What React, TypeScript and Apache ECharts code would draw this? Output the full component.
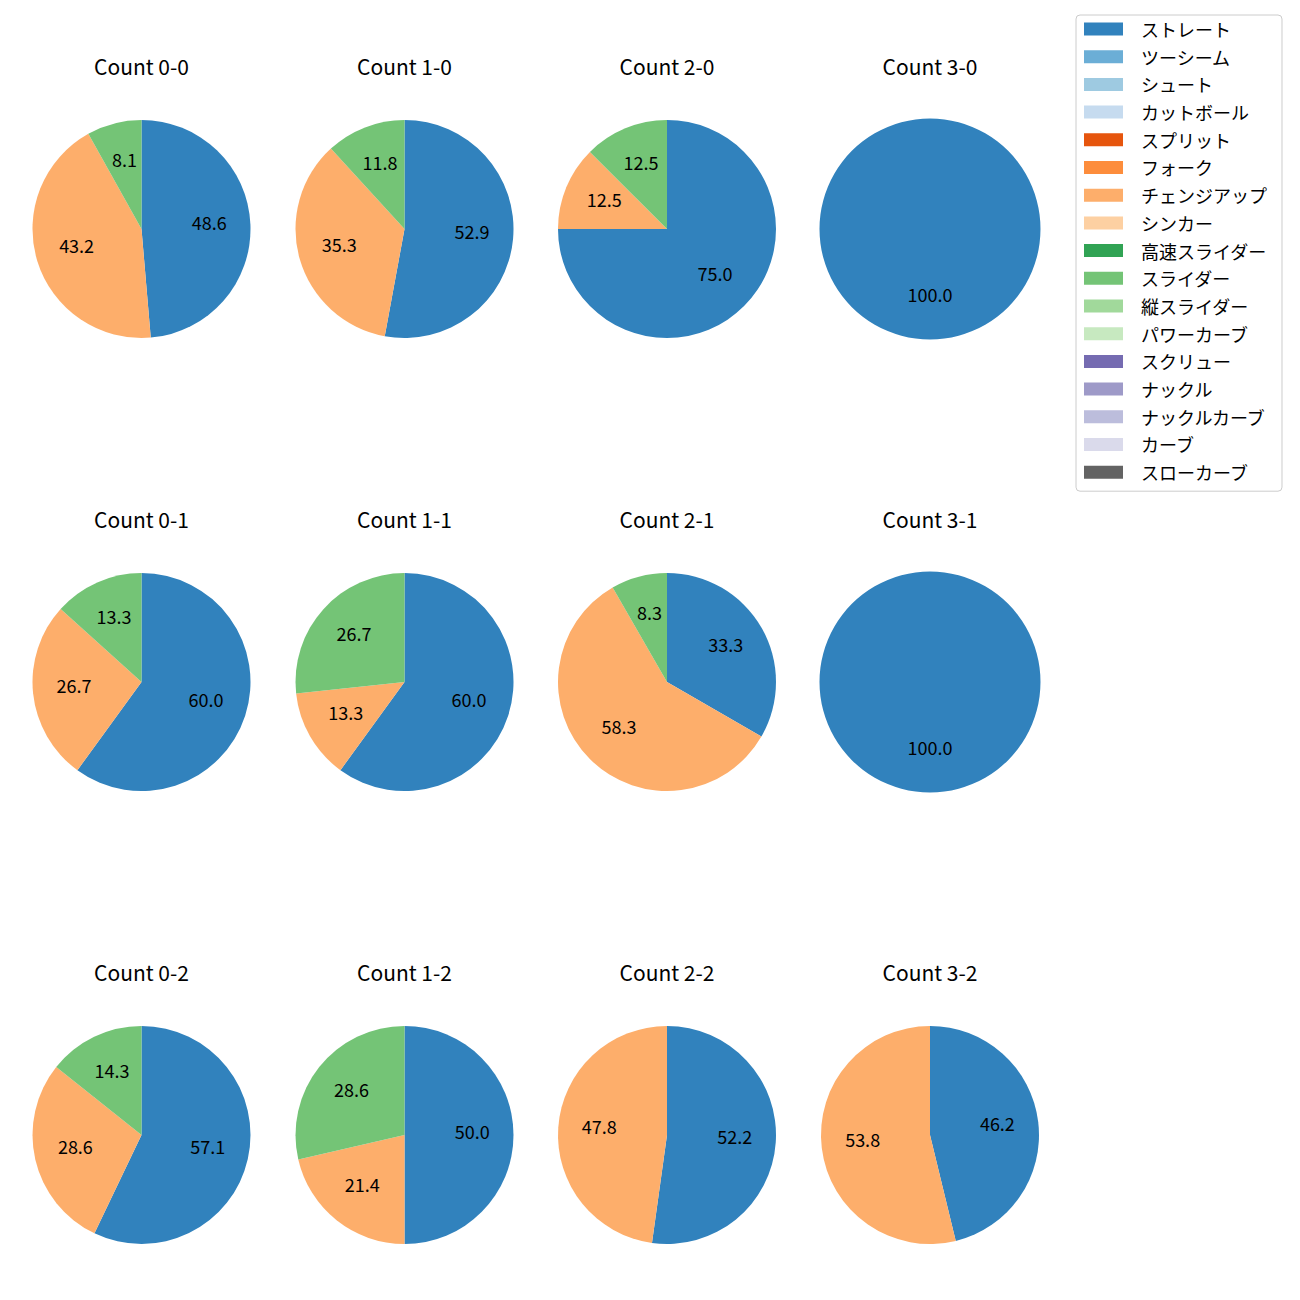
import React, { useEffect, useRef } from "react";
import * as echarts from "echarts";

const pitchNames = [
  "ストレート", "ツーシーム", "シュート", "カットボール", "スプリット", "フォーク",
  "チェンジアップ", "シンカー", "高速スライダー", "スライダー", "縦スライダー",
  "パワーカーブ", "スクリュー", "ナックル", "ナックルカーブ", "カーブ", "スローカーブ",
];
const pitchColors = [
  "#3182bd", "#6baed6", "#9ecae1", "#c6dbef", "#e6550d", "#fd8d3c",
  "#fdae6b", "#fdd0a2", "#31a354", "#74c476", "#a1d99b",
  "#c7e9c0", "#756bb1", "#9e9ac8", "#bcbddc", "#dadaeb", "#636363",
];

const countTitles = [
  "Count 0-0", "Count 1-0", "Count 2-0", "Count 3-0",
  "Count 0-1", "Count 1-1", "Count 2-1", "Count 3-1",
  "Count 0-2", "Count 1-2", "Count 2-2", "Count 3-2",
];
// percentages per count: [ストレート, チェンジアップ, スライダー]
const straightPct = [48.6, 52.9, 75.0, 100.0, 60.0, 60.0, 33.3, 100.0, 57.1, 50.0, 52.2, 46.2];
const changeupPct = [43.2, 35.3, 12.5, 0, 26.7, 13.3, 58.3, 0, 28.6, 21.4, 47.8, 53.8];
const sliderPct = [8.1, 11.8, 12.5, 0, 13.3, 26.7, 8.3, 0, 14.3, 28.6, 0, 0];

const colCenters = [141.5, 404.5, 667, 930];
const rowCenters = [229, 682, 1135];
const R = 109;

export default function App() {
  const ref = useRef<HTMLDivElement>(null);
  useEffect(() => {
    if (!ref.current) return;
    const chart = echarts.init(ref.current, undefined, { renderer: "svg" });
    const series: any[] = [];
    // legend helper series (invisible)
    series.push({
      type: "pie",
      name: "legend",
      center: [-500, -500],
      radius: [0, 1],
      silent: true,
      label: { show: false },
      labelLine: { show: false },
      data: pitchNames.map((n, i) => ({ name: n, value: 1, itemStyle: { color: pitchColors[i] } })),
    });
    const graphics: any[] = [];
    countTitles.forEach((t, k) => {
      const cx = colCenters[k % 4];
      const cy = rowCenters[Math.floor(k / 4)];
      const items: any[] = [];
      const vals = [
        ["ストレート", straightPct[k]],
        ["チェンジアップ", changeupPct[k]],
        ["スライダー", sliderPct[k]],
      ] as [string, number][];
      vals.forEach(([n, v]) => {
        if (v > 0) items.push({ name: n, value: v, itemStyle: { color: pitchColors[pitchNames.indexOf(n)] } });
      });
      const r = items.length === 1 ? R + 1.5 : R;
      series.push({
        type: "pie",
        center: [cx, cy],
        radius: [0, r],
        startAngle: 90,
        clockwise: true,
        silent: true,
        label: { show: false },
        labelLine: { show: false },
        itemStyle: { borderWidth: 0 },
        emphasis: { disabled: true },
        data: items,
      });
      series.push({
        type: "pie",
        center: [cx, cy],
        radius: [r * 0.19, r],
        startAngle: 90,
        clockwise: true,
        silent: true,
        labelLine: { show: false },
        emphasis: { disabled: true },
        label: {
          show: true,
          position: "inside",
          formatter: (p: any) => p.value.toFixed(1),
          color: "#000",
          fontSize: 18,
          fontFamily: "Noto Sans CJK JP",
          offset: [0, -4],
        },
        data: items.map((d) => ({ name: d.name, value: d.value, itemStyle: { color: "rgba(0,0,0,0)" } })),
      });
      graphics.push({
        type: "text",
        x: cx,
        y: cy - 163,
        style: {
          text: t,
          textAlign: "center",
          textVerticalAlign: "middle",
          fontSize: 21,
          fontFamily: "Noto Sans CJK JP",
          fill: "#000",
        },
      });
    });
    chart.setOption({
      animation: false,
      backgroundColor: "#fff",
      legend: {
        orient: "vertical",
        left: 1076,
        top: 15,
        padding: [5, 15, 10, 8],
        itemWidth: 39,
        itemHeight: 13,
        itemGap: 9.7,
        icon: "rect",
        borderColor: "#cccccc",
        borderWidth: 1,
        borderRadius: 4,
        selectedMode: false,
        data: pitchNames,
        textStyle: {
          fontSize: 18,
          fontFamily: "Noto Sans CJK JP",
          color: "#000",
          padding: [0, 0, 0, 13],
        },
      },
      graphic: graphics,
      series,
    });
    return () => chart.dispose();
  }, []);
  return (
    <div
      ref={ref}
      style={{ position: "fixed", left: 0, top: 0, width: 1300, height: 1300 }}
    />
  );
}
